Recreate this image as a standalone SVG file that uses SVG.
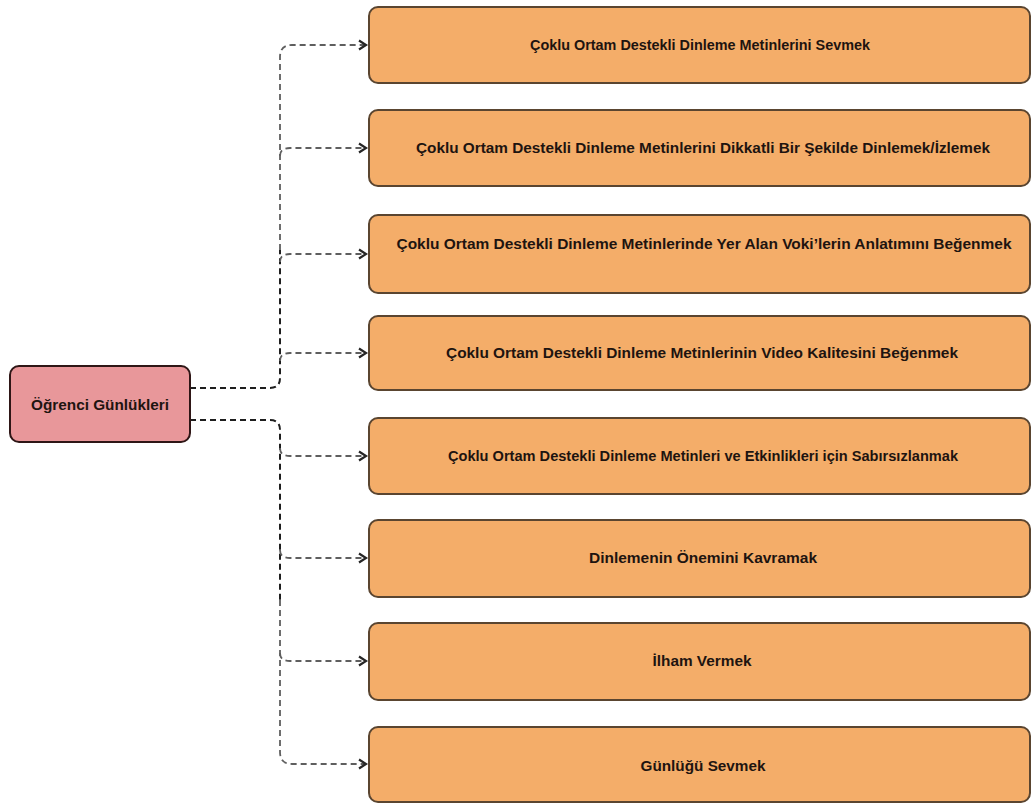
<svg xmlns="http://www.w3.org/2000/svg" width="1033" height="804" viewBox="0 0 1033 804">
  <defs>
    <marker id="arrow" markerWidth="12" markerHeight="12" refX="9" refY="6" orient="auto" markerUnits="userSpaceOnUse">
      <path d="M2,1.5 L9,6 L2,10.5" fill="none" stroke="#262626" stroke-width="2.2" stroke-linejoin="miter"/>
    </marker>
    <style>
      .item rect { fill: #f4ad69; stroke: #5a4530; stroke-width: 2; }
      .root rect { fill: #e8979a; stroke: #2e1616; stroke-width: 2; }
      text { font-family: "Liberation Sans", Arial, sans-serif; font-size: 14px; font-weight: bold; fill: #1e1410; text-anchor: middle; dominant-baseline: central; }
      .trunk { fill: none; stroke: #1e1e1e; stroke-width: 2; stroke-dasharray: 6 4; }
      .branch { fill: none; stroke: #5e5e5e; stroke-width: 1.8; stroke-dasharray: 6 4; }
    </style>
  </defs>
  <rect width="1033" height="804" fill="#ffffff"/>

  <!-- connectors -->
  <g id="connectors">
    <path class="trunk" d="M190,388 H270 Q280,388 280,378 V250"/>
    <path class="branch" d="M280,250 V57 Q280,45 292,45 H366" marker-end="url(#arrow)"/>
    <path class="branch" d="M280,156 Q280,148 290,148 H366" marker-end="url(#arrow)"/>
    <path class="branch" d="M280,262 Q280,254 290,254 H366" marker-end="url(#arrow)"/>
    <path class="branch" d="M280,361 Q280,353 290,353 H366" marker-end="url(#arrow)"/>

    <path class="trunk" d="M190,420 H270 Q280,420 280,430 V600"/>
    <path class="branch" d="M280,600 V752 Q280,764 292,764 H366" marker-end="url(#arrow)"/>
    <path class="branch" d="M280,448 Q280,456 290,456 H366" marker-end="url(#arrow)"/>
    <path class="branch" d="M280,550 Q280,558 290,558 H366" marker-end="url(#arrow)"/>
    <path class="branch" d="M280,653 Q280,661 290,661 H366" marker-end="url(#arrow)"/>
  </g>

  <!-- root -->
  <g id="root" class="root">
    <rect x="10" y="366" width="180" height="76" rx="9"/>
    <text x="100" y="405" textLength="138" lengthAdjust="spacingAndGlyphs">Öğrenci Günlükleri</text>
  </g>

  <!-- items -->
  <g id="item1" class="item">
    <rect x="369" y="7" width="661" height="76" rx="9"/>
    <text x="700" y="45" textLength="340" lengthAdjust="spacingAndGlyphs">Çoklu Ortam Destekli Dinleme Metinlerini Sevmek</text>
  </g>
  <g id="item2" class="item">
    <rect x="369" y="110" width="661" height="76" rx="9"/>
    <text x="703" y="148" textLength="574" lengthAdjust="spacingAndGlyphs">Çoklu Ortam Destekli Dinleme Metinlerini Dikkatli Bir Şekilde Dinlemek/İzlemek</text>
  </g>
  <g id="item3" class="item">
    <rect x="369" y="215" width="661" height="78" rx="9"/>
    <text x="704" y="244" textLength="615" lengthAdjust="spacingAndGlyphs">Çoklu Ortam Destekli Dinleme Metinlerinde Yer Alan Voki’lerin Anlatımını Beğenmek</text>
  </g>
  <g id="item4" class="item">
    <rect x="369" y="316" width="661" height="74" rx="9"/>
    <text x="702" y="353" textLength="512" lengthAdjust="spacingAndGlyphs">Çoklu Ortam Destekli Dinleme Metinlerinin Video Kalitesini Beğenmek</text>
  </g>
  <g id="item5" class="item">
    <rect x="369" y="418" width="661" height="76" rx="9"/>
    <text x="703" y="456" textLength="510" lengthAdjust="spacingAndGlyphs">Çoklu Ortam Destekli Dinleme Metinleri ve Etkinlikleri için Sabırsızlanmak</text>
  </g>
  <g id="item6" class="item">
    <rect x="369" y="520" width="661" height="77" rx="9"/>
    <text x="703" y="558" textLength="228" lengthAdjust="spacingAndGlyphs">Dinlemenin Önemini Kavramak</text>
  </g>
  <g id="item7" class="item">
    <rect x="369" y="623" width="661" height="77" rx="9"/>
    <text x="702" y="661" textLength="99" lengthAdjust="spacingAndGlyphs">İlham Vermek</text>
  </g>
  <g id="item8" class="item">
    <rect x="369" y="727" width="661" height="75" rx="9"/>
    <text x="703" y="766" textLength="125" lengthAdjust="spacingAndGlyphs">Günlüğü Sevmek</text>
  </g>
</svg>
